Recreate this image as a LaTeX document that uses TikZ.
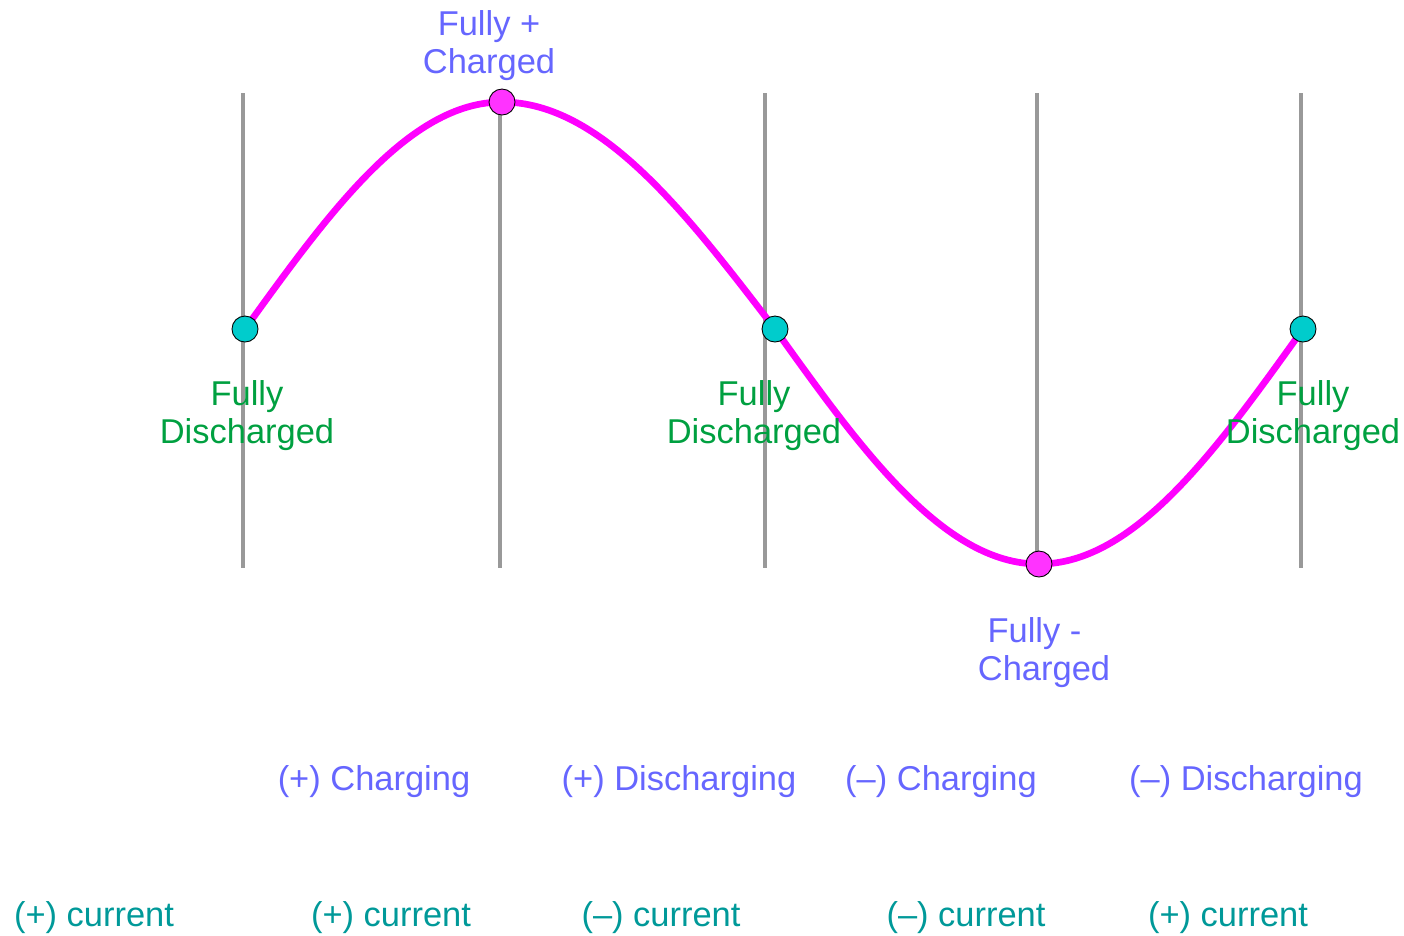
\documentclass[tikz,border=0pt]{standalone}
\usepackage{fontspec}
\setmainfont{Liberation Sans}
\usepackage{tikz}

\definecolor{lblblue}{HTML}{6666FF}
\definecolor{lblgreen}{HTML}{00A040}
\definecolor{lblteal}{HTML}{009999}
\definecolor{dotcyan}{HTML}{00CCCC}
\definecolor{dotpink}{HTML}{FF33FF}
\definecolor{wavepink}{HTML}{FF00FF}

\begin{document}
\begin{tikzpicture}[x=0.01cm, y=-0.01cm,
	every node/.style={font=\fontsize{9.8}{10.8}\selectfont, inner sep=0pt, align=center},
	vline/.style={draw=gray!80, line width=0.9pt},
	wave/.style={draw=wavepink, line width=1.9pt},
	zero/.style={draw=black, line width=0.25pt, circle, fill=dotcyan, minimum size=7.4pt},
	peak/.style={draw=black, line width=0.25pt, circle, fill=dotpink, minimum size=7.4pt},
	state/.style={text=lblblue},
	empty/.style={text=lblgreen},
	cur/.style={text=lblteal}]
	\useasboundingbox (0,0) rectangle (1404,935);
	% quarter-period grid
	\draw[vline] (243,93) -- (243,568);
	\draw[vline] (500,93) -- (500,568);
	\draw[vline] (765,93) -- (765,568);
	\draw[vline] (1037,93) -- (1037,568);
	\draw[vline] (1301,93) -- (1301,568);
	% one period of the charge
	\coordinate (z1) at (245,329);
	\coordinate (top) at (502,102);
	\coordinate (z2) at (775,329);
	\coordinate (bot) at (1039,564);
	\coordinate (z3) at (1303,329);
	\draw[wave] (z1) sin (top) cos (z2) sin (bot) cos (z3);
	\node[zero] (dz1) at (z1) {};
	\node[peak] (dtop) at (top) {};
	\node[zero] (dz2) at (z2) {};
	\node[peak] (dbot) at (bot) {};
	\node[zero] (dz3) at (z3) {};
	% labels at the points
	\node[state] (ltop) at (489,46) {Fully +\\Charged};
	\node[state] (lbot) at (1044,653) {Fully -\hspace*{0.19cm}\\Charged};
	\node[empty] (lz1) at (247,416) {Fully\\Discharged};
	\node[empty] (lz2) at (754,416) {Fully\\Discharged};
	\node[empty] (lz3) at (1313,416) {Fully\\Discharged};
	% phases
	\node[state] (ph1) at (374,782) {(+) Charging};
	\node[state] (ph2) at (679,782) {(+) Discharging};
	\node[state] (ph3) at (941,782) {(–) Charging};
	\node[state] (ph4) at (1246,782) {(–) Discharging};
	% current direction
	\node[cur] (c1) at (94,918) {(+) current};
	\node[cur] (c2) at (391,918) {(+) current};
	\node[cur] (c3) at (661,918) {(–) current};
	\node[cur] (c4) at (966,918) {(–) current};
	\node[cur] (c5) at (1228,918) {(+) current};
\end{tikzpicture}
\end{document}
